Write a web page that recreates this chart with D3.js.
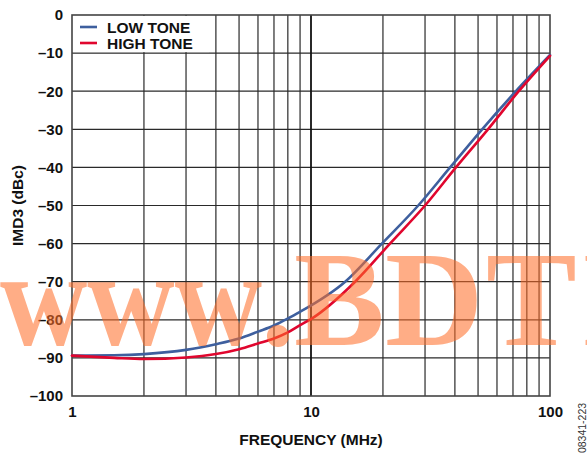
<!DOCTYPE html>
<html>
<head>
<meta charset="utf-8">
<script src="https://cdn.jsdelivr.net/npm/d3@7"></script>
<style>
  html, body { margin: 0; padding: 0; background: #fff; }
  svg { display: block; }
</style>
</head>
<body>
<svg id="chart" width="587" height="454"></svg>
<script>
// Third-order intermodulation vs. frequency
const lowToneFreq = [1, 1.5, 2, 3, 4, 5, 6, 7, 7.8, 9, 13.9, 19.8, 28.1, 38.2, 52, 72, 100];
const lowToneDbc  = [-89.4, -89.3, -89.0, -87.9, -86.4, -84.9, -83.1, -81.5, -80, -77.9, -70, -60, -50, -40, -30, -20, -10.5];

const highToneFreq = [1, 1.5, 2, 3, 4, 5, 6, 7, 8, 9, 10, 15.3, 21.4, 30, 40.4, 55, 74, 100];
const highToneDbc  = [-89.4, -90.0, -90.3, -89.9, -89.0, -87.7, -86.2, -84.9, -83.3, -81.4, -79.8, -70, -60, -50, -40, -30, -20, -10.7];

const seriesNames = ["LOW TONE", "HIGH TONE"];
const seriesColors = ["#3e5f9e", "#e0062e"];

const yTicks = [0, -10, -20, -30, -40, -50, -60, -70, -80, -90, -100];
const yTickLabels = ["0", "\u201310", "\u201320", "\u201330", "\u201340", "\u201350", "\u201360", "\u201370", "\u201380", "\u201390", "\u2013100"];
const xTicks = [1, 10, 100];
const xTickLabels = ["1", "10", "100"];
const xGrid = [2, 3, 4, 5, 6, 7, 8, 9, 20, 30, 40, 50, 60, 70, 80, 90];

const SANS = "'Liberation Sans', Arial, Helvetica, sans-serif";
const SERIF = "'Liberation Serif', 'Times New Roman', serif";

const svg = d3.select("#chart");
const plotL = 72, plotR = 550, plotT = 15, plotB = 396;

const x = d3.scaleLog().domain([1, 100]).range([plotL, plotR]);
const y = d3.scaleLinear().domain([-100, 0]).range([plotB, plotT]);

// grid
const grid = svg.append("g");
grid.selectAll("line.h").data(yTicks.slice(1, -1)).enter().append("line")
  .attr("x1", plotL).attr("x2", plotR)
  .attr("y1", d => y(d)).attr("y2", d => y(d))
  .attr("stroke", "#2a2a2a").attr("stroke-width", 1.2);
grid.selectAll("line.v").data(xGrid).enter().append("line")
  .attr("x1", d => x(d)).attr("x2", d => x(d))
  .attr("y1", plotT).attr("y2", plotB)
  .attr("stroke", "#2a2a2a").attr("stroke-width", 1.2);
grid.append("line")
  .attr("x1", x(10)).attr("x2", x(10)).attr("y1", plotT).attr("y2", plotB)
  .attr("stroke", "#111").attr("stroke-width", 1.8);

// legend background
svg.append("rect").attr("x", plotL + 1).attr("y", plotT + 1)
  .attr("width", 136).attr("height", y(-10) - plotT - 2)
  .attr("fill", "#fff");

// frame
svg.append("rect").attr("x", plotL).attr("y", plotT)
  .attr("width", plotR - plotL).attr("height", plotB - plotT)
  .attr("fill", "none").attr("stroke", "#444").attr("stroke-width", 1.6);

// axes labels
const yAxis = d3.axisLeft(y).tickValues(yTicks).tickSize(0).tickPadding(9)
  .tickFormat((d, i) => yTickLabels[i]);
const gy = svg.append("g").attr("transform", `translate(${plotL},0)`).call(yAxis);
gy.select(".domain").remove();
gy.selectAll("text").style("font-size", "15px").style("font-weight", "bold")
  .style("font-family", SANS).attr("fill", "#111");

const xAxis = d3.axisBottom(x).tickValues(xTicks).tickSize(0).tickPadding(10)
  .tickFormat((d, i) => xTickLabels[i]);
const gx = svg.append("g").attr("transform", `translate(0,${plotB})`).call(xAxis);
gx.select(".domain").remove();
gx.selectAll("text").style("font-size", "15px").style("font-weight", "bold")
  .style("font-family", SANS).attr("fill", "#111");

svg.append("text").attr("x", (plotL + plotR) / 2).attr("y", 445)
  .attr("text-anchor", "middle")
  .style("font-family", SANS).style("font-size", "15.5px").style("font-weight", "bold")
  .attr("fill", "#111").text("FREQUENCY (MHz)");

svg.append("text").attr("transform", `translate(23,${(plotT + plotB) / 2}) rotate(-90)`)
  .attr("text-anchor", "middle")
  .style("font-family", SANS).style("font-size", "15.5px").style("font-weight", "bold")
  .attr("fill", "#111").text("IMD3 (dBc)");

svg.append("text").attr("transform", "translate(586,428) rotate(-90)")
  .attr("text-anchor", "middle")
  .style("font-family", SANS).style("font-size", "10.5px")
  .attr("fill", "#333").text("08341-223");

// curves
const line = d3.line().x(d => x(d[0])).y(d => y(d[1])).curve(d3.curveMonotoneX);
const series = [d3.zip(lowToneFreq, lowToneDbc), d3.zip(highToneFreq, highToneDbc)];
svg.append("g").selectAll("path").data(series).enter().append("path")
  .attr("d", line).attr("fill", "none")
  .attr("stroke", (d, i) => seriesColors[i]).attr("stroke-width", 2.6)
  .attr("stroke-linecap", "round");

// legend
const lg = svg.append("g");
seriesNames.forEach((name, i) => {
  const ly = 27 + i * 16;
  lg.append("line").attr("x1", 80).attr("x2", 97).attr("y1", ly).attr("y2", ly)
    .attr("stroke", seriesColors[i]).attr("stroke-width", 2.6);
  lg.append("text").attr("x", 107).attr("y", ly + 6)
    .style("font-family", SANS).style("font-size", "15.5px").style("font-weight", "bold")
    .attr("fill", "#111").text(name);
});

// watermark, laid over the whole chart
const wm = svg.append("g").attr("fill", "rgb(255,108,40)").attr("fill-opacity", 0.56)
  .style("font-family", SERIF).style("font-weight", "bold").style("font-size", "136px");
wm.append("text").attr("x", 0).attr("y", 345)
  .attr("textLength", 262).attr("lengthAdjust", "spacingAndGlyphs").text("www");
wm.append("text").attr("x", 261).attr("y", 345).text(".");
wm.append("text").attr("x", "294 385 486 581 640").attr("y", 345).text("BDTIC");
</script>
</body>
</html>
